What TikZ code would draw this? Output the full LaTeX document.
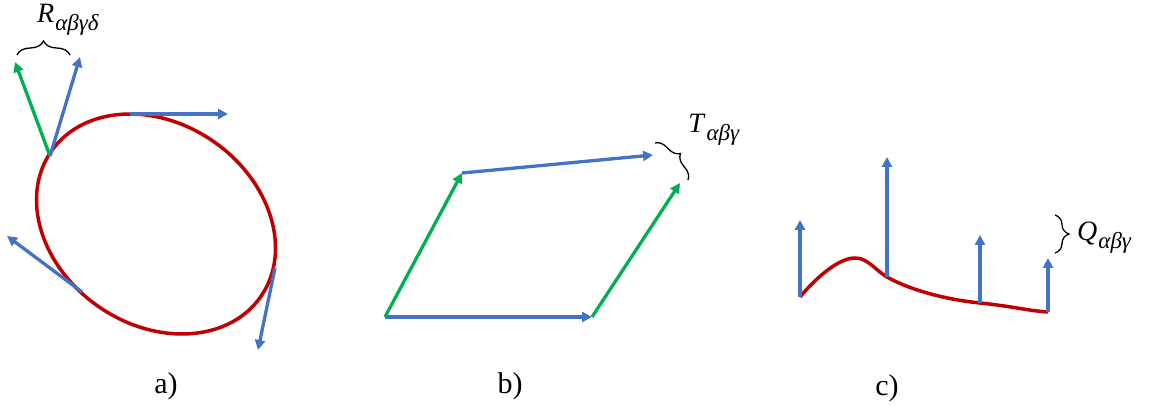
\documentclass[tikz,border=0pt]{standalone}
\usepackage{fontspec}
\setmainfont{Liberation Serif}
\usetikzlibrary{arrows.meta,decorations.pathreplacing}
\definecolor{vecblue}{HTML}{4472C4}
\definecolor{vecgreen}{HTML}{00B050}
\definecolor{curvered}{HTML}{C00000}
\newcommand{\tens}[2]{\textit{#1}\kern1pt\raisebox{-0.28em}{\fontsize{23}{25}\selectfont\textit{#2}}}

\begin{document}
\begin{tikzpicture}[x=1pt, y=1pt, >={Triangle[length=10pt,width=10pt]},
    bluevec/.style={->, line width=3.3pt, vecblue},
    greenvec/.style={->, line width=3.3pt, vecgreen},
    curve/.style={line width=3.5pt, curvered},
    brc/.style={decorate, decoration={brace, amplitude=#1}, line width=1.3pt},
    lbl/.style={font=\fontsize{30}{36}\selectfont},
    sym/.style={font=\fontsize{28}{30}\selectfont, inner sep=0pt}]
    \useasboundingbox (0,0) rectangle (1149,406);

    % a) closed curve with tangent vectors
    \draw[curve, rotate around={-34.6:(156,182)}] (156,182) ellipse (127.5 and 100.6);

    \coordinate (top) at (130,292);   \coordinate (topend) at (228,292);
    \coordinate (j) at (50,250);      \coordinate (jg) at (15,344);
    \coordinate (jb) at (80,349);
    \coordinate (l) at (82,114);      \coordinate (lend) at (7,170);
    \coordinate (r) at (275,138);     \coordinate (rend) at (258,56);

    \draw[bluevec] (top) -- (topend);
    \draw[greenvec] (j) -- (jg);
    \draw[bluevec] (j) -- (jb);
    \draw[bluevec] (l) -- (lend);
    \draw[bluevec] (r) -- (rend);

    \coordinate (rb1) at (17,351);    \coordinate (rb2) at (70,351);
    \draw[brc=14] (rb1) -- (rb2);
    \node[sym] (rlab) at (68,386) {\tens{R}{αβγδ}};

    % b) parallelogram
    \coordinate (pa) at (385,89);
    \coordinate (pb) at (592,89);
    \coordinate (pc) at (462,233);
    \coordinate (pd) at (653,251);
    \coordinate (pe) at (680,223);

    \draw[bluevec] (pa) -- (pb);
    \draw[greenvec] (pa) -- (pc);
    \draw[bluevec] (pc) -- (pd);
    \draw[greenvec] (pb) -- (pe);

    \coordinate (tb1) at (655,263);   \coordinate (tb2) at (688,226);
    \draw[brc=12] (tb1) -- (tb2);
    \node[sym] (tlab) at (714,276) {\tens{T}{αβγ}};

    % c) open curve with vertical vectors
    \coordinate (q1) at (800,109);
    \coordinate (qtop) at (855,148);
    \coordinate (q2) at (887,129);
    \coordinate (q3) at (980,103);
    \coordinate (q4) at (1048,94);

    \draw[curve] (q1) .. controls (815,127) and (838,148) .. (qtop)
        .. controls (868,148) and (875,136) .. (q2)
        .. controls (905,118.5) and (940,107) .. (q3)
        .. controls (1010,100) and (1030,95) .. (q4);

    \draw[bluevec] (q1) -- ++(0,77);
    \draw[bluevec] (q2) -- ++(0,120);
    \draw[bluevec] (q3) -- ++(0,68);
    \draw[bluevec] (q4) -- ++(0,54);

    \coordinate (qb1) at (1055,191); \coordinate (qb2) at (1055,153);
    \draw[brc=14] (qb1) -- (qb2);
    \node[sym, anchor=west] (qlab) at (1077,168) {\tens{Q}{αβγ}};

    \node[lbl] (capa) at (166,20) {a)};
    \node[lbl] (capb) at (510,20) {b)};
    \node[lbl] (capc) at (887,18) {c)};
\end{tikzpicture}
\end{document}
